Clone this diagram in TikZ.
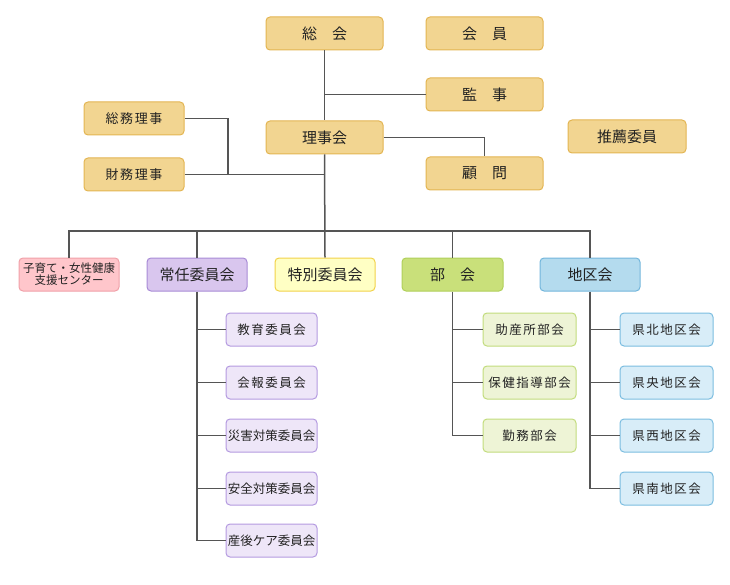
\documentclass[tikz,border=0pt]{standalone}
\usepackage{fontspec}
\setmainfont{Noto Sans CJK JP}
\newfontfamily\jpsp[LetterSpace=12]{Noto Sans CJK JP}
\definecolor{txt}{HTML}{222222}
\definecolor{lin}{HTML}{555555}
\definecolor{goldF}{HTML}{F2D591}
\definecolor{goldD}{HTML}{E3B552}
\definecolor{pinkF}{HTML}{FFC6CB}
\definecolor{pinkD}{HTML}{F0A0A8}
\definecolor{purF}{HTML}{D9C6EE}
\definecolor{purD}{HTML}{A88BD6}
\definecolor{purlF}{HTML}{EEE6F8}
\definecolor{purlD}{HTML}{B49AE0}
\definecolor{yelF}{HTML}{FFFFC4}
\definecolor{yelD}{HTML}{F2D24A}
\definecolor{grnF}{HTML}{C9E07A}
\definecolor{grnD}{HTML}{B0D05A}
\definecolor{grnlF}{HTML}{EEF4D6}
\definecolor{grnlD}{HTML}{C2DC7C}
\definecolor{bluF}{HTML}{B4DBEE}
\definecolor{bluD}{HTML}{73B6DC}
\definecolor{blulF}{HTML}{D8EDF8}
\definecolor{blulD}{HTML}{7BBDE0}
\begin{document}
\begin{tikzpicture}[x=1pt,y=-1pt,
  box/.style={draw, rounded corners=4pt, line width=1pt, inner sep=0pt, minimum height=33pt, text=txt, align=center},
  gold/.style={box, fill=goldF, draw=goldD, minimum width=117pt, font=\fontsize{15}{17}\selectfont},
  goldsm/.style={box, fill=goldF, draw=goldD, minimum width=100pt, font=\jpsp\fontsize{13}{15}\selectfont},
  main/.style={box, minimum width=100pt, font=\fontsize{15}{17}\selectfont},
  kid/.style={box, minimum width=91pt, font=\fontsize{12.5}{15}\selectfont},
  kidsp/.style={box, minimum width=91pt, font=\jpsp\fontsize{12.5}{15}\selectfont},
  conn/.style={draw=lin, line width=1.5pt}]
\useasboundingbox (0,0) rectangle (730,585);
% top
\node[gold] (soukai) at (324.5,33.5) {総　会};
\node[gold] (kaiin) at (484.5,33.5) {会　員};
\node[gold] (kanji) at (484.5,94.5) {監　事};
\node[gold] (riji) at (324.5,137.5) {理事会};
\node[gold, minimum width=118pt] (suisen) at (627,136.5) {推薦委員};
\node[gold] (komon) at (484.5,173.5) {顧　問};
\node[goldsm] (soumu) at (134,118.5) {総務理事};
\node[goldsm] (zaimu) at (134,174.5) {財務理事};
% level 2
\node[main, fill=pinkF, draw=pinkD, font=\fontsize{11.5}{12}\selectfont] (kosodate) at (69,274.5) {子育て・女性健康\\支援センター};
\node[main, fill=purF, draw=purD] (jonin) at (197,274.5) {常任委員会};
\node[main, fill=yelF, draw=yelD] (tokubetsu) at (325,274.5) {特別委員会};
\node[main, fill=grnF, draw=grnD, minimum width=101pt] (bukai) at (452.5,274.5) {部　会};
\node[main, fill=bluF, draw=bluD] (chiku) at (590,274.5) {地区会};
% jonin children
\node[kidsp, fill=purlF, draw=purlD] (j1) at (271.5,329.5) {教育委員会};
\node[kidsp, fill=purlF, draw=purlD] (j2) at (271.5,382.5) {会報委員会};
\node[kid, fill=purlF, draw=purlD] (j3) at (271.5,435.5) {災害対策委員会};
\node[kid, fill=purlF, draw=purlD] (j4) at (271.5,488.5) {安全対策委員会};
\node[kid, fill=purlF, draw=purlD] (j5) at (271.5,540.5) {産後ケア委員会};
% bukai children
\node[kidsp, fill=grnlF, draw=grnlD, minimum width=93pt] (b1) at (529.5,329.5) {助産所部会};
\node[kidsp, fill=grnlF, draw=grnlD, minimum width=93pt] (b2) at (529.5,382.5) {保健指導部会};
\node[kidsp, fill=grnlF, draw=grnlD, minimum width=93pt] (b3) at (529.5,435.5) {勤務部会};
% chiku children
\node[kidsp, fill=blulF, draw=blulD, minimum width=93pt] (c1) at (666.5,329.5) {県北地区会};
\node[kidsp, fill=blulF, draw=blulD, minimum width=93pt] (c2) at (666.5,382.5) {県央地区会};
\node[kidsp, fill=blulF, draw=blulD, minimum width=93pt] (c3) at (666.5,435.5) {県西地区会};
\node[kidsp, fill=blulF, draw=blulD, minimum width=93pt] (c4) at (666.5,488.5) {県南地区会};
% coordinates
\coordinate (bus) at (325,231);
\coordinate (sj) at (228,174.5);
% connectors
\begin{scope}[conn]
\draw (soukai.south) -- (riji.north);
\draw (soukai.south |- kanji.west) -- (kanji.west);
\draw (riji.east) -| (komon.north);
\draw (soumu.east) -| (sj);
\draw (zaimu.east) -- (riji.south |- zaimu.east);
\draw (riji.south) -- (tokubetsu.north);
\draw (kosodate.north) -- (kosodate.north |- bus) -- (chiku.north |- bus) -- (chiku.north);
\draw (jonin.north) -- (jonin.north |- bus);
\draw (bukai.north) -- (bukai.north |- bus);
\draw (jonin.south) |- (j5.west);
\foreach \k in {j1,j2,j3,j4} \draw (jonin.south |- \k.west) -- (\k.west);
\draw (bukai.south) |- (b3.west);
\foreach \k in {b1,b2} \draw (bukai.south |- \k.west) -- (\k.west);
\draw (chiku.south) |- (c4.west);
\foreach \k in {c1,c2,c3} \draw (chiku.south |- \k.west) -- (\k.west);
\end{scope}
\end{tikzpicture}
\end{document}
